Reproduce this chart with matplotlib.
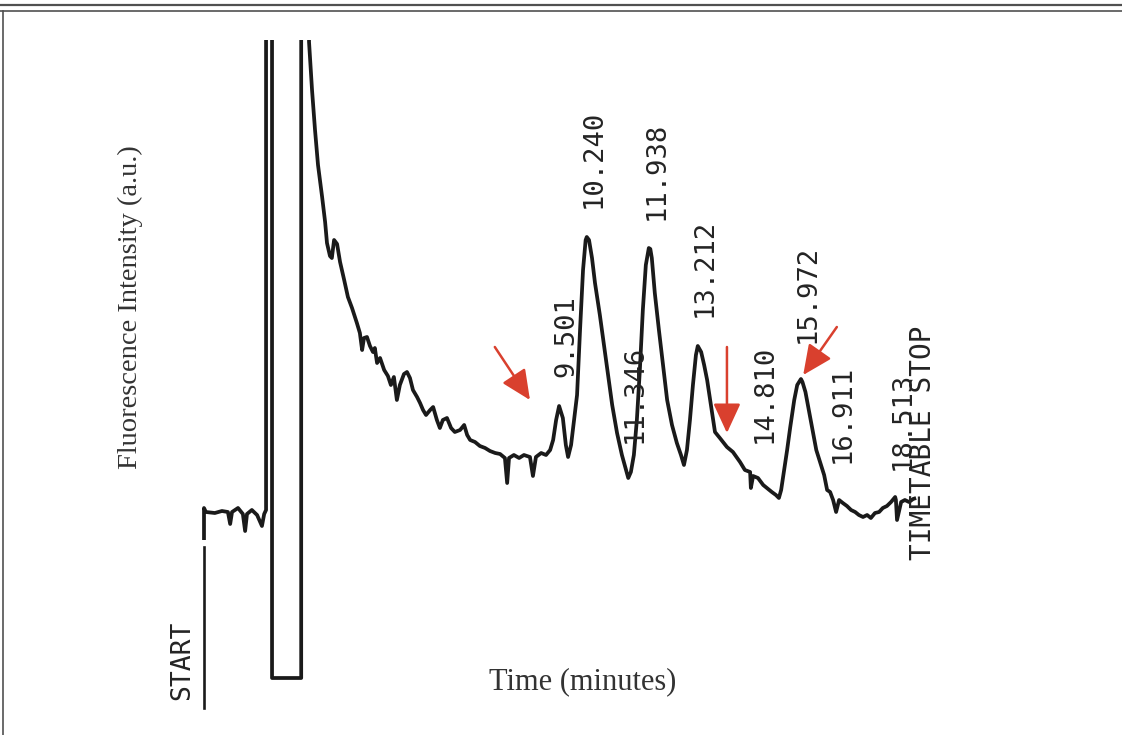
import matplotlib
matplotlib.use("Agg")
import matplotlib.pyplot as plt
from matplotlib.lines import Line2D

# ---- chromatogram trace: time (min) vs fluorescence (a.u.) ----
time_min = [
    0.00, 0.00, 0.05, 0.29, 0.48, 0.64, 0.70, 0.75, 0.91, 1.04, 1.10, 1.15,
    1.28, 1.42, 1.55, 1.61, 1.66, 1.66, 1.82, 1.82, 2.60, 2.60, 2.78,
    2.81, 2.89, 2.97, 3.05, 3.16, 3.24, 3.29, 3.37, 3.42, 3.48, 3.56, 3.64,
    3.75, 3.85, 3.96, 4.09, 4.17, 4.23, 4.28, 4.36, 4.44, 4.52, 4.57, 4.63,
    4.71, 4.82, 4.92, 5.00, 5.08, 5.16, 5.24, 5.35, 5.43, 5.51, 5.59, 5.70,
    5.78, 5.86, 5.94, 6.05, 6.13, 6.23, 6.31, 6.39, 6.50, 6.61, 6.71, 6.85,
    6.96, 7.04, 7.12, 7.25, 7.38, 7.52, 7.65, 7.79, 7.92, 8.05, 8.11, 8.16,
    8.29, 8.43, 8.56, 8.72, 8.80, 8.88, 9.02, 9.15, 9.26, 9.34, 9.42, 9.50,
    9.60, 9.68, 9.74, 9.82, 9.90, 9.98, 10.06, 10.14, 10.21, 10.24, 10.30,
    10.38, 10.46, 10.59, 10.70, 10.81, 10.92, 11.05, 11.18, 11.29, 11.35,
    11.42, 11.50, 11.58, 11.66, 11.74, 11.82, 11.90, 11.94, 11.98, 12.06,
    12.17, 12.28, 12.39, 12.52, 12.65, 12.76, 12.84, 12.92, 13.00, 13.08,
    13.16, 13.21, 13.30, 13.38, 13.46, 13.56, 13.67, 13.80, 13.99, 14.15,
    14.34, 14.47, 14.61, 14.63, 14.69, 14.82, 14.96, 15.06, 15.19, 15.30,
    15.38, 15.44, 15.52, 15.60, 15.68, 15.79, 15.87, 15.97, 16.01, 16.09,
    16.17, 16.28, 16.38, 16.48, 16.59, 16.67, 16.75, 16.83, 16.91, 16.99,
    17.09, 17.20, 17.31, 17.42, 17.52, 17.63, 17.74, 17.84, 17.95, 18.06,
    18.16, 18.27, 18.38, 18.49, 18.51, 18.54, 18.65, 18.75, 18.86, 18.97,
    19.05,
]
intensity = [
    16.0, 19.2, 18.8, 18.7, 18.9, 18.8, 17.6, 18.8, 19.2, 18.6, 16.9, 18.6,
    19.0, 18.5, 17.4, 18.6, 19.0, 95.0, 95.0, 2.2, 2.2, 95.0, 95.0,
    65.8, 61.0, 57.0, 53.5, 50.3, 47.8, 45.7, 44.4, 44.2, 46.0, 45.6, 43.8,
    42.0, 40.3, 39.2, 37.7, 36.7, 35.0, 36.2, 36.3, 35.4, 34.8, 35.2, 33.7,
    34.2, 33.0, 32.4, 31.5, 32.3, 30.0, 31.5, 32.6, 32.8, 32.2, 31.0, 30.3,
    29.7, 29.0, 28.5, 29.0, 29.3, 28.0, 27.2, 28.0, 28.2, 27.2, 26.8, 27.0,
    27.5, 26.5, 26.0, 25.8, 25.4, 25.2, 24.9, 24.7, 24.6, 24.2, 21.7, 24.2,
    24.5, 24.2, 24.5, 24.3, 22.4, 24.3, 24.7, 24.5, 25.0, 26.0, 28.0, 29.4,
    28.2, 25.5, 24.3, 25.5, 28.0, 30.5, 37.0, 43.0, 46.0, 46.3, 46.0,
    44.2, 41.7, 38.5, 35.5, 32.5, 29.5, 26.7, 24.5, 23.0, 22.2,
    22.8, 24.5, 28.0, 33.0, 39.0, 43.5, 45.2, 45.1, 44.2, 40.7,
    37.0, 33.5, 30.0, 27.5, 25.7, 24.5, 23.5, 25.0, 28.0, 31.5,
    34.5, 35.4, 34.8, 33.5, 32.0, 29.5, 26.8, 26.2, 25.3, 24.8,
    23.8, 23.0, 22.8, 21.2, 22.4, 22.2, 21.5, 21.2, 20.8, 20.5,
    20.2, 21.0, 23.0, 25.0, 27.2, 30.0, 31.5, 32.1, 31.8, 30.8,
    29.2, 27.0, 25.0, 23.8, 22.5, 21.0, 20.8, 20.0, 18.8, 20.0,
    19.7, 19.4, 19.0, 18.8, 18.5, 18.3, 18.5, 18.2, 18.7, 18.8,
    19.2, 19.4, 19.8, 20.3, 20.0, 18.0, 19.8, 20.0, 19.8, 20.1,
    20.2,
]

# ---- integrator peak annotations (retention times) ----
peak_labels = ["9.501", "10.240", "11.346", "11.938", "13.212",
               "14.810", "15.972", "16.911", "18.513"]
peak_times = [9.501, 10.240, 11.346, 11.938, 13.212,
              14.810, 15.972, 16.911, 18.513]

# print heights of the rotated labels (a.u., bottom of the text)
label_base = [32.3, 49.2, 25.7, 48.0, 38.3, 25.7, 35.7, 23.7, 23.0]

# red arrows: (tail time, tail a.u.) -> (head time, head a.u.)
arrows = [((7.78, 35.3), (8.72, 30.0)),
          ((13.99, 35.3), (13.99, 26.7)),
          ((16.93, 37.3), (16.03, 32.5))]

W, H = 1122, 735
fig = plt.figure(figsize=(W / 100, H / 100), dpi=100)
fig.patch.set_facecolor("white")

# plotting area: full width, paper clipped at the top edge
top_px = 40
ax = fig.add_axes([0, 0, 1, (H - top_px) / H])
ax.set_xlim(-204 / 37.38, (W - 204) / 37.38)
ax.set_ylim(-3.5, 66.0)
ax.axis("off")

ink = "#1a1a1a"
ax.plot(time_min, intensity, color=ink, lw=2.7, solid_joinstyle="round",
        solid_capstyle="butt")

# START marker line
ax.plot([0, 0], [-0.8, 15.3], color=ink, lw=1.9)

mono = "DejaVu Sans Mono"
txt = "#242424"
for lab, t, yb in zip(peak_labels, peak_times, label_base):
    ax.annotate(lab, xy=(t, yb), xytext=(5, 0), textcoords="offset points",
                rotation=90, ha="center", va="bottom", fontsize=19.5,
                family=mono, color=txt)

ax.annotate("START", xy=(0, 0.0), xytext=(-16, 0), textcoords="offset points",
            rotation=90, ha="center", va="bottom", fontsize=19,
            family=mono, color=txt)
# end-of-run stamp, printed over the last retention time
ax.annotate("TIMETABLE STOP", xy=(19.23, 14.0), xytext=(0, 0),
            textcoords="offset points", rotation=90, ha="center",
            va="bottom", fontsize=20, family=mono, color=txt)

red = "#d9402e"
for (tail, head) in arrows:
    ax.annotate("", xy=head, xytext=tail,
                arrowprops=dict(arrowstyle="-|>,head_length=1.3,head_width=0.6",
                                color=red, lw=1.8, shrinkA=0, shrinkB=0,
                                mutation_scale=14))

# axis titles
serif = "Liberation Serif"
fig.text(130 / W, 1 - 307 / H, "Fluorescence Intensity (a.u.)", rotation=90,
         ha="center", va="center", fontsize=20.5, family=serif, color="#333333")
fig.text(583 / W, 1 - 682 / H, "Time (minutes)", ha="center", va="center",
         fontsize=22, family=serif, color="#333333")

# outer frame: double rule on top, single rule on the left
fig.add_artist(Line2D([0, 1], [1 - 5 / H, 1 - 5 / H], transform=fig.transFigure,
                      color="#505050", lw=1.6))
fig.add_artist(Line2D([0, 1], [1 - 11 / H, 1 - 11 / H], transform=fig.transFigure,
                      color="#505050", lw=1.2))
fig.add_artist(Line2D([3 / W, 3 / W], [0, 1 - 11 / H], transform=fig.transFigure,
                      color="#505050", lw=1.2))

fig.savefig("out.png", dpi=100, facecolor="white")
